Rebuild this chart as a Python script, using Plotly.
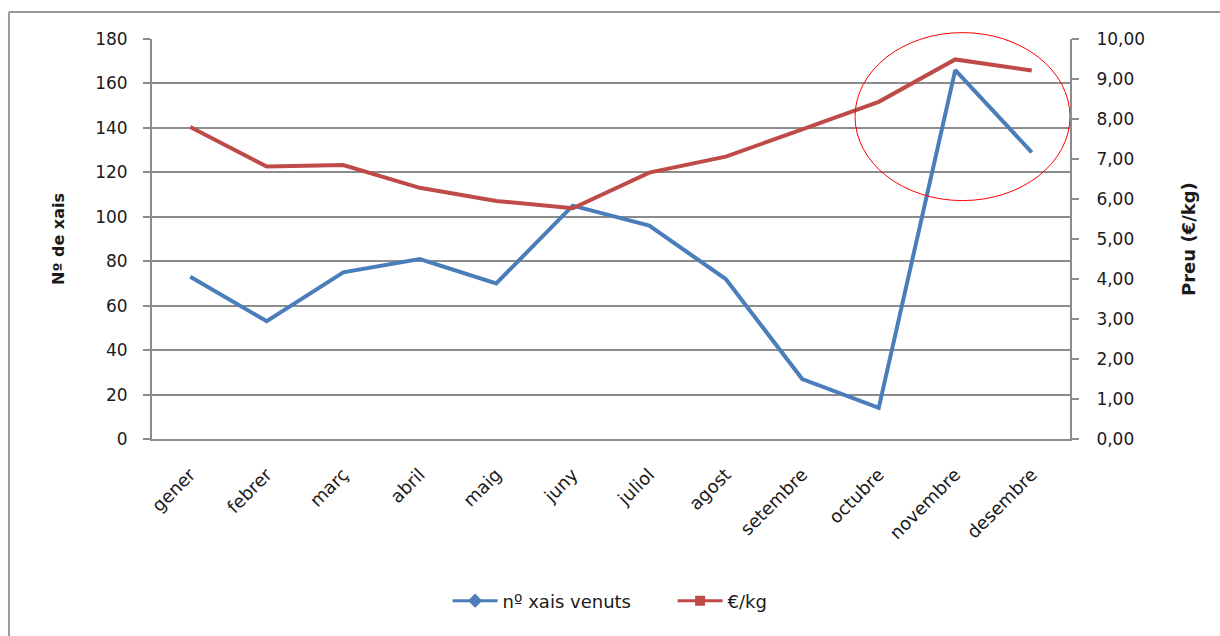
import plotly.graph_objects as go

# Monthly lamb sales and price per kg
mesos = ["gener", "febrer", "març", "abril", "maig", "juny", "juliol",
         "agost", "setembre", "octubre", "novembre", "desembre"]
xais_venuts = [73, 53, 75, 81, 70, 105, 96, 72, 27, 14, 166, 129]
preu_kg = [7.80, 6.81, 6.85, 6.28, 5.95, 5.77, 6.66, 7.06, 7.74, 8.43, 9.49, 9.21]

nom_xais = "nº xais venuts"
nom_preu = "€/kg"
titol_esq = "Nº de xais"
titol_dre = "Preu (€/kg)"

blau = "#4A7EBB"
vermell = "#BE4B48"
gris = "#8C8C8C"
text_color = "#1a1a1a"
font_family = "'DejaVu Sans', Verdana, sans-serif"

fig = go.Figure()

# Data lines (no markers on the lines themselves)
fig.add_trace(go.Scatter(
    x=mesos, y=xais_venuts, mode="lines", name=nom_xais,
    line=dict(color=blau, width=4), showlegend=False, yaxis="y",
))
fig.add_trace(go.Scatter(
    x=mesos, y=preu_kg, mode="lines", name=nom_preu,
    line=dict(color=vermell, width=4), showlegend=False, yaxis="y2",
))

# Legend entries show a line with a marker
fig.add_trace(go.Scatter(
    x=[None], y=[None], mode="lines+markers", name=nom_xais,
    line=dict(color=blau, width=3),
    marker=dict(symbol="diamond", size=11, color=blau), yaxis="y",
))
fig.add_trace(go.Scatter(
    x=[None], y=[None], mode="lines+markers", name=nom_preu,
    line=dict(color=vermell, width=3),
    marker=dict(symbol="square", size=10, color=vermell), yaxis="y2",
))

fig.update_layout(
    width=1220, height=636,
    margin=dict(l=152, r=150, t=39, b=197),
    paper_bgcolor="white", plot_bgcolor="white",
    separators=",.",
    font=dict(family=font_family, size=16, color=text_color),
    xaxis=dict(
        type="category", tickangle=-45,
        showline=True, linecolor=gris, linewidth=2,
        showgrid=False, ticks="", tickfont=dict(size=18),
        ticklabelstandoff=16,
        range=[-0.5, len(mesos) - 0.5],
    ),
    yaxis=dict(
        range=[0, 180], dtick=20,
        showline=True, linecolor=gris, linewidth=2,
        ticks="outside", ticklen=7, tickcolor=gris, tickwidth=2,
        showgrid=True, gridcolor=gris, gridwidth=1.5,
        zeroline=False, tickfont=dict(size=17),
        ticklabelstandoff=12,
    ),
    yaxis2=dict(
        range=[0, 10], dtick=1, tickformat=".2f",
        overlaying="y", side="right",
        showline=True, linecolor=gris, linewidth=2,
        ticks="outside", ticklen=7, tickcolor=gris, tickwidth=2,
        showgrid=False, zeroline=False, tickfont=dict(size=17),
        ticklabelstandoff=14,
    ),
    legend=dict(
        orientation="h", x=0.322, y=-0.405,
        xanchor="left", yanchor="middle",
        font=dict(size=18), itemwidth=45,
        entrywidth=165, entrywidthmode="pixels",
        bgcolor="rgba(0,0,0,0)",
    ),
    showlegend=True,
)

# Axis titles
fig.add_annotation(
    text="<b>" + titol_esq + "</b>", xref="paper", yref="paper",
    x=-0.1024, y=0.5, xanchor="center", yanchor="middle",
    textangle=-90, showarrow=False,
    font=dict(size=16, color=text_color),
)
fig.add_annotation(
    text="<b>" + titol_dre + "</b>", xref="paper", yref="paper",
    x=1.1285, y=0.5, xanchor="center", yanchor="middle",
    textangle=-90, showarrow=False,
    font=dict(size=18, color=text_color),
)

# Chart frame (left and top edges)
fig.add_shape(type="line", xref="paper", yref="paper",
              x0=-0.1558, x1=-0.1558, y0=-0.6, y1=1.0675,
              line=dict(color="#9a9a9a", width=2))
fig.add_shape(type="line", xref="paper", yref="paper",
              x0=-0.1558, x1=1.2, y0=1.0675, y1=1.0675,
              line=dict(color="#9a9a9a", width=2))

# Highlight around the November-December peak
fig.add_shape(type="circle", xref="x", yref="paper",
              x0=8.69, x1=11.5, y0=0.596, y1=1.016,
              line=dict(color="red", width=1))

fig.write_html("out.html")
